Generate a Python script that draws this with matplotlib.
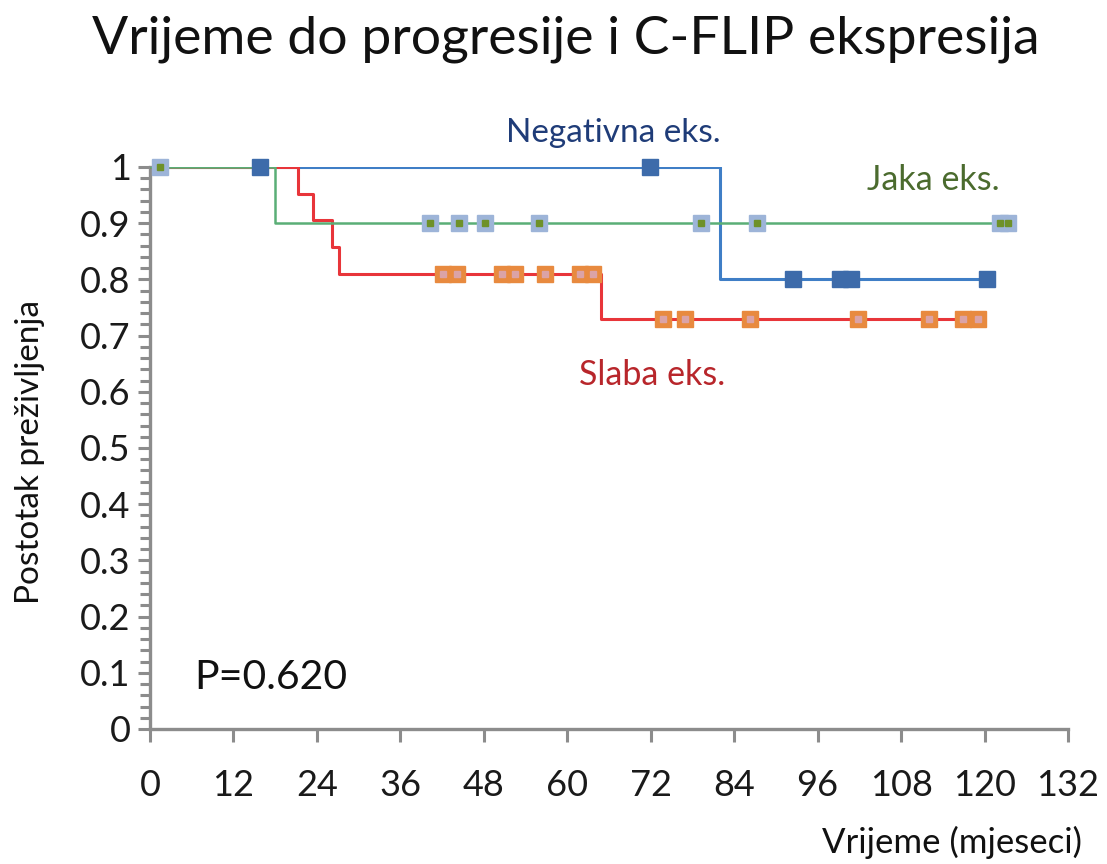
import matplotlib.pyplot as plt
from matplotlib.ticker import MultipleLocator

# Kaplan-Meier step data (time in months, survival fraction)
neg_t = [0, 82, 120.3]
neg_s = [1.0, 0.8, 0.8]
neg_cens_t = [15.8, 71.9, 92.4, 99.2, 100.8, 120.3]
neg_cens_s = [1.0, 1.0, 0.8, 0.8, 0.8, 0.8]

jaka_t = [0, 18, 123.4]
jaka_s = [1.0, 0.9, 0.9]
jaka_cens_t = [1.4, 40.3, 44.4, 48.2, 55.9, 79.2, 87.3, 122.2, 123.4]
jaka_cens_s = [1.0, 0.9, 0.9, 0.9, 0.9, 0.9, 0.9, 0.9, 0.9]

slaba_t = [0, 21.3, 23.4, 26.2, 27.2, 64.9, 119.1]
slaba_s = [1.0, 0.952, 0.905, 0.857, 0.81, 0.729, 0.729]
slaba_cens_t = [42.1, 44.1, 50.6, 52.5, 56.8, 61.8, 63.7,
                73.8, 76.9, 86.3, 101.8, 112.0, 116.9, 119.1]
slaba_cens_s = [0.81] * 7 + [0.729] * 7

plt.rcParams['font.family'] = ['Lato', 'DejaVu Sans']

fig = plt.figure(figsize=(11.07, 8.64), dpi=100)
ax = fig.add_axes([150 / 1107, 1 - 729 / 864, 918 / 1107, 562 / 864])

# lines
ax.step(neg_t, neg_s, where='post', color='#3F7EC6', lw=2.2, zorder=2)
ax.step(slaba_t, slaba_s, where='post', color='#E8353A', lw=2.2, zorder=3)
ax.step(jaka_t, jaka_s, where='post', color='#5AAE76', lw=1.8, zorder=4)

# censor markers
ax.plot(neg_cens_t, neg_cens_s, 's', ms=11.5, color='#3D6BAA', mec='#3D6BAA',
        zorder=6, clip_on=False)
ax.plot(jaka_cens_t, jaka_cens_s, 's', ms=11.5, color='#9DB4D8', mec='#9DB4D8',
        zorder=6, clip_on=False)
ax.plot(jaka_cens_t, jaka_cens_s, 's', ms=4.5, color='#6E9129', mec='#6E9129',
        zorder=7, clip_on=False)
ax.plot(slaba_cens_t, slaba_cens_s, 's', ms=11.5, color='#E88A3F', mec='#E88A3F',
        zorder=6, clip_on=False)
ax.plot(slaba_cens_t, slaba_cens_s, 's', ms=4.5, color='#DBA3A6', mec='#DBA3A6',
        zorder=7, clip_on=False)

ax.set_xlim(0, 132)
ax.set_ylim(0, 1)
ax.xaxis.set_major_locator(MultipleLocator(12))
ax.yaxis.set_major_locator(MultipleLocator(0.1))
ax.yaxis.set_minor_locator(MultipleLocator(0.02))
ax.set_yticklabels([f'{v:g}' for v in ax.get_yticks()])

for s in ['top', 'right']:
    ax.spines[s].set_visible(False)
for s in ['left', 'bottom']:
    ax.spines[s].set_color('#8C8C8C')
    ax.spines[s].set_linewidth(2.4)

ax.tick_params(axis='both', which='both', color='#8C8C8C', width=2.2,
               labelsize=26, labelcolor='#1A1A1A')
ax.tick_params(axis='x', which='major', length=9, pad=20)
ax.tick_params(axis='y', which='major', length=9, pad=5)
ax.tick_params(axis='y', which='minor', length=7)

# annotations
ax.text(66.6, 1.06, 'Negativna eks.', color='#1F3C78', fontsize=24,
        ha='center', va='center', clip_on=False)
ax.text(112.6, 0.977, 'Jaka eks.', color='#4B6B2E', fontsize=24.5,
        ha='center', va='center')
ax.text(72.2, 0.63, 'Slaba eks.', color='#B8262B', fontsize=24.5,
        ha='center', va='center')
ax.text(17.3, 0.091, 'P=0.620', color='#111111', fontsize=29.5,
        ha='center', va='center')

fig.text(0.511, 0.954, 'Vrijeme do progresije i C-FLIP ekspresija',
         fontsize=38.5, ha='center', va='center', color='#111111')
fig.text(30 / 1107, 1 - 452 / 864, 'Postotak preživljenja', rotation=90,
         fontsize=24, ha='center', va='center', color='#111111')
fig.text(1082 / 1107, 1 - 842 / 864, 'Vrijeme (mjeseci)', fontsize=25,
         ha='right', va='center', color='#111111')

fig.savefig('out.png', dpi=100)
